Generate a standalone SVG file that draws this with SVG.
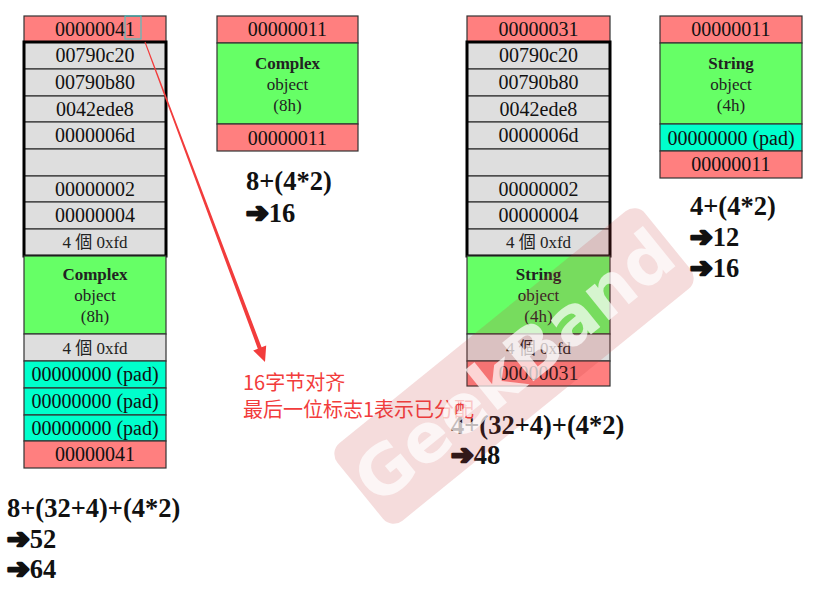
<svg xmlns="http://www.w3.org/2000/svg" width="820" height="590" viewBox="0 0 820 590">
<style>
.r{fill:#ff7f7f;stroke:#333;stroke-width:1.2}
.g{fill:#66ff66;stroke:#333;stroke-width:1.2}
.gr{fill:#dedede;stroke:#333;stroke-width:1.2}
.c{fill:#00ffcc;stroke:#333;stroke-width:1.2}
.thick{fill:none;stroke:#000;stroke-width:3}
.t{font-family:"Liberation Serif",serif;font-size:20px;text-anchor:middle;fill:#111}
.s{font-family:"Liberation Serif","Noto Sans CJK TC",serif;font-size:17px;text-anchor:middle;fill:#222}
.b{font-weight:bold}
.f{font-family:"Liberation Serif",serif;font-size:26.5px;font-weight:bold;fill:#111}
.ar{font-family:"DejaVu Sans",sans-serif;font-size:27px;font-weight:bold;stroke:#111;stroke-width:2.6;stroke-linejoin:round}
.note{font-family:"Noto Sans CJK SC",sans-serif;font-size:20px;fill:#f23c3c}
</style>
<rect width="820" height="590" fill="#fff"/>

<g id="block-complex-debug">
<rect class="r" x="24" y="16" width="142" height="26"/><text class="t" x="95" y="36">00000041</text>
<rect class="gr" x="24" y="42" width="142" height="27"/><text class="t" x="95" y="62">00790c20</text>
<rect class="gr" x="24" y="69" width="142" height="27"/><text class="t" x="95" y="89">00790b80</text>
<rect class="gr" x="24" y="96" width="142" height="26"/><text class="t" x="95" y="116">0042ede8</text>
<rect class="gr" x="24" y="122" width="142" height="27"/><text class="t" x="95" y="142">0000006d</text>
<rect class="gr" x="24" y="149" width="142" height="27"/>
<rect class="gr" x="24" y="176" width="142" height="26"/><text class="t" x="95" y="196">00000002</text>
<rect class="gr" x="24" y="202" width="142" height="27"/><text class="t" x="95" y="222">00000004</text>
<rect class="gr" x="24" y="229" width="142" height="27"/><text class="s" x="95" y="248">4 個 0xfd</text>
<rect class="thick" x="24" y="42" width="142" height="214"/>
<rect class="g" x="24" y="256" width="142" height="78"/>
<text class="s b" x="95" y="280">Complex</text><text class="s" x="95" y="301">object</text><text class="s" x="95" y="322">(8h)</text>
<rect class="gr" x="24" y="334" width="142" height="27"/><text class="s" x="95" y="354">4 個 0xfd</text>
<rect class="c" x="24" y="361" width="142" height="27"/><text class="t" x="95" y="381">00000000 (pad)</text>
<rect class="c" x="24" y="388" width="142" height="27"/><text class="t" x="95" y="408">00000000 (pad)</text>
<rect class="c" x="24" y="415" width="142" height="26"/><text class="t" x="95" y="435">00000000 (pad)</text>
<rect class="r" x="24" y="441" width="142" height="27"/><text class="t" x="95" y="461">00000041</text>
<rect x="125" y="16" width="16" height="23" fill="none" stroke="#33cccc" stroke-width="1"/>
</g>

<g id="block-complex-release">
<rect class="r" x="217" y="16" width="141" height="27"/><text class="t" x="287.5" y="36">00000011</text>
<rect class="g" x="217" y="43" width="141" height="81"/>
<text class="s b" x="287.5" y="69">Complex</text><text class="s" x="287.5" y="90">object</text><text class="s" x="287.5" y="111">(8h)</text>
<rect class="r" x="217" y="124" width="141" height="27"/><text class="t" x="287.5" y="145">00000011</text>
</g>

<g id="block-string-debug">
<rect class="r" x="467" y="16" width="143" height="26"/><text class="t" x="538.5" y="36">00000031</text>
<rect class="gr" x="467" y="42" width="143" height="27"/><text class="t" x="538.5" y="62">00790c20</text>
<rect class="gr" x="467" y="69" width="143" height="27"/><text class="t" x="538.5" y="89">00790b80</text>
<rect class="gr" x="467" y="96" width="143" height="26"/><text class="t" x="538.5" y="116">0042ede8</text>
<rect class="gr" x="467" y="122" width="143" height="27"/><text class="t" x="538.5" y="142">0000006d</text>
<rect class="gr" x="467" y="149" width="143" height="27"/>
<rect class="gr" x="467" y="176" width="143" height="26"/><text class="t" x="538.5" y="196">00000002</text>
<rect class="gr" x="467" y="202" width="143" height="27"/><text class="t" x="538.5" y="222">00000004</text>
<rect class="gr" x="467" y="229" width="143" height="27"/><text class="s" x="538.5" y="248">4 個 0xfd</text>
<rect class="thick" x="467" y="42" width="143" height="214"/>
<rect class="g" x="467" y="256" width="143" height="78"/>
<text class="s b" x="538.5" y="280">String</text><text class="s" x="538.5" y="301">object</text><text class="s" x="538.5" y="322">(4h)</text>
<rect class="gr" x="467" y="334" width="143" height="27"/><text class="s" x="538.5" y="354">4 個 0xfd</text>
<rect class="r" x="467" y="361" width="143" height="25"/><text class="t" x="538.5" y="380">00000031</text>
</g>

<g id="block-string-release">
<rect class="r" x="660" y="16" width="142" height="27"/><text class="t" x="731" y="36">00000011</text>
<rect class="g" x="660" y="43" width="142" height="81"/>
<text class="s b" x="731" y="69">String</text><text class="s" x="731" y="90">object</text><text class="s" x="731" y="111">(4h)</text>
<rect class="c" x="660" y="124" width="142" height="27"/><text class="t" x="731" y="145">00000000 (pad)</text>
<rect class="r" x="660" y="151" width="142" height="27"/><text class="t" x="731" y="171">00000011</text>
</g>

<g id="formulas">
<text class="f" x="7" y="517">8+(32+4)+(4*2)</text>
<text class="f" x="7" y="548"><tspan class="ar">➔</tspan>52</text>
<text class="f" x="7" y="578"><tspan class="ar">➔</tspan>64</text>
<text class="f" x="246" y="190">8+(4*2)</text>
<text class="f" x="246" y="222"><tspan class="ar">➔</tspan>16</text>
<text class="f" x="451" y="434">4+(32+4)+(4*2)</text>
<text class="f" x="451" y="464"><tspan class="ar">➔</tspan>48</text>
<text class="f" x="690" y="215">4+(4*2)</text>
<text class="f" x="690" y="246"><tspan class="ar">➔</tspan>12</text>
<text class="f" x="690" y="277"><tspan class="ar">➔</tspan>16</text>
</g>

<g id="connectors">
<polygon points="144.5,42.2 257.8,348.7 253.2,350.5 265,362 266.2,345.5 261.6,347.3 145.5,41.8" fill="#f23c3c"/>
</g>

<g id="note">
<text class="note" x="243" y="390">16字节对齐</text>
<text class="note" x="243" y="417">最后一位标志1表示已分配</text>
</g>

<g id="watermark" transform="translate(514,366) rotate(-39)">
<rect x="-198" y="-50" width="396" height="100" rx="14" fill="#c83c3c" fill-opacity="0.18"/>
<text x="0" y="24" font-family="'DejaVu Sans',sans-serif" font-weight="bold" font-size="68" text-anchor="middle" fill="#fff" fill-opacity="0.7">GeekBand</text>
</g>
</svg>
